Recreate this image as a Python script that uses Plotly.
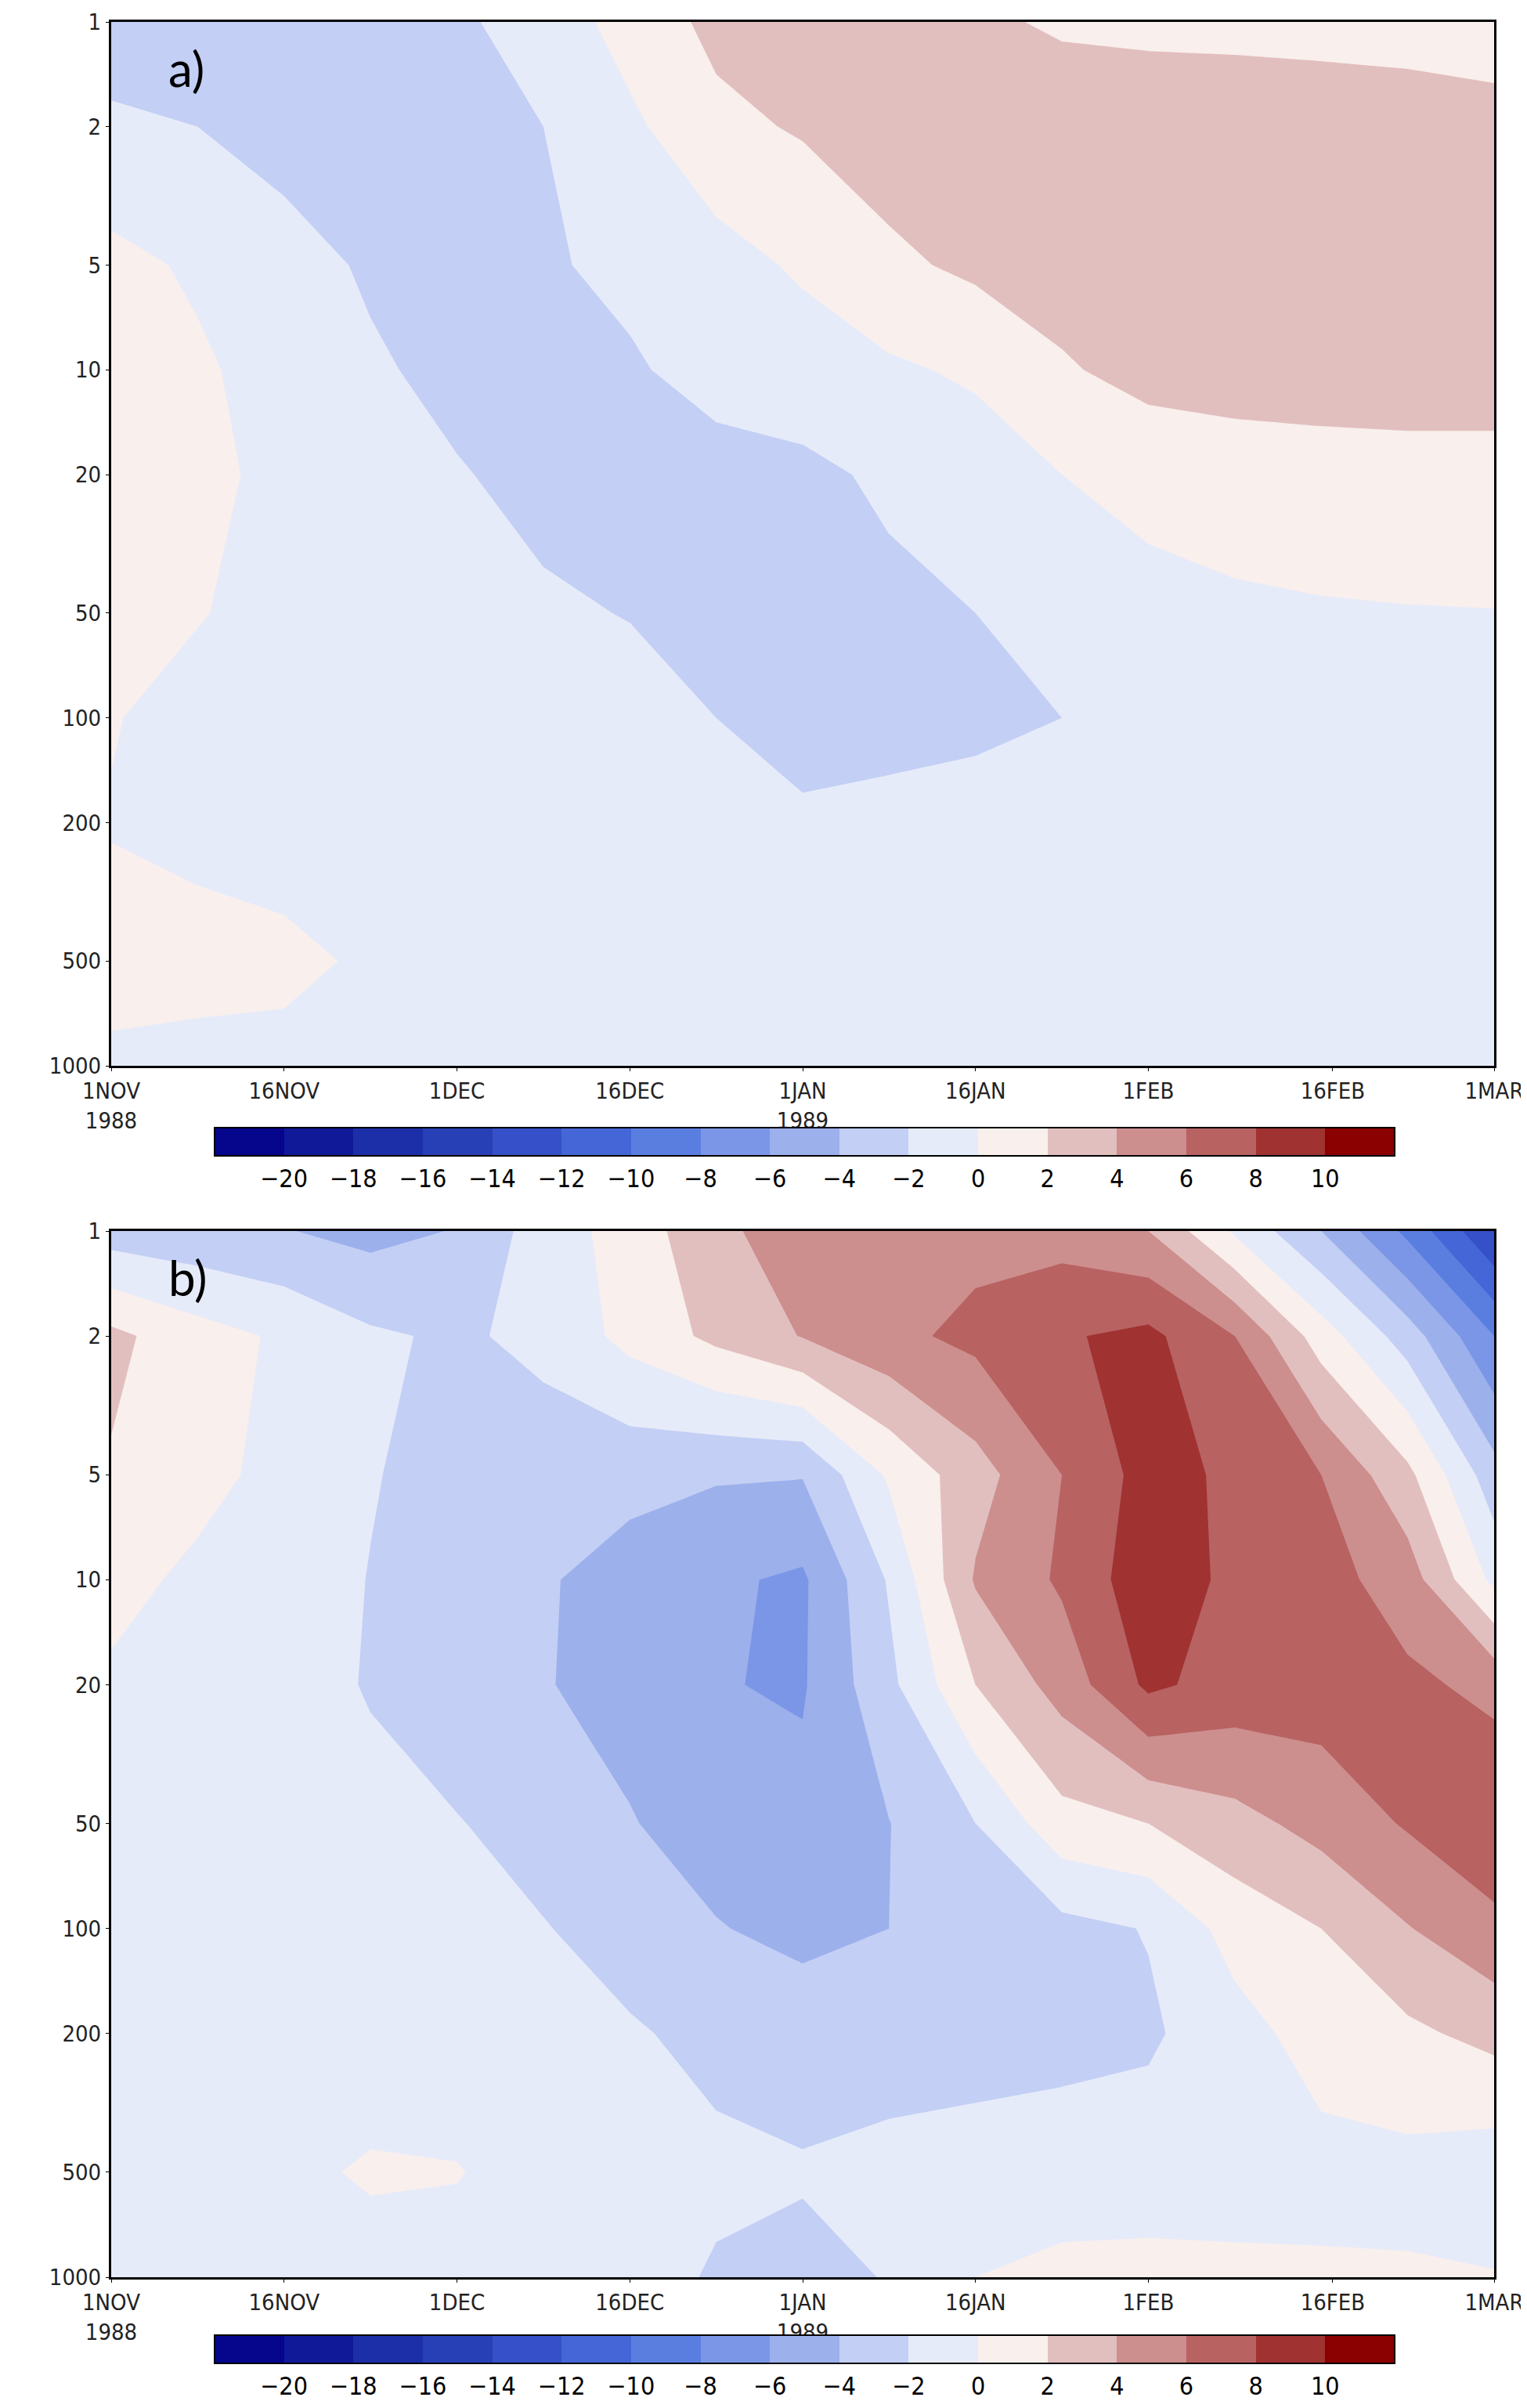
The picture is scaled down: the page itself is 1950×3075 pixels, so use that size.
import plotly.graph_objects as go
import numpy as np

days = [0, 7.5, 15, 22.5, 30, 37.5, 45, 52.5, 60, 67.5, 75, 82.5, 90, 97.5, 105, 112.5, 120]
levels = [1, 2, 5, 10, 20, 50, 100, 200, 500, 1000]

za = [
    [-2.6,-2.6,-2.6,-2.6,-2.3,-1.2,0.8,2.5,2.8,2.8,2.4,1.7,1.5,1.45,1.4,1.35,1.3],
    [-1.8,-2.0,-2.6,-2.8,-2.8,-2.0,-0.4,1.5,2.2,3.0,3.2,3.3,3.3,3.2,3.0,2.8,2.5],
    [0.6,-0.3,-1.4,-2.2,-2.6,-2.2,-1.6,-0.8,0.3,1.6,2.4,2.8,3.0,3.0,3.0,2.9,2.8],
    [0.8,0.3,-0.8,-1.8,-2.4,-2.6,-2.2,-1.4,-1.0,-0.3,0.3,1.8,2.6,2.7,2.7,2.7,2.7],
    [0.5,0.3,-0.3,-1.2,-1.9,-2.4,-2.6,-2.6,-2.4,-1.7,-1.0,0.0,0.8,1.2,1.4,1.5,1.5],
    [0.4,0.1,-0.6,-1.0,-1.4,-1.8,-2.05,-2.5,-2.6,-2.4,-2.0,-1.5,-0.8,-0.4,-0.2,-0.1,-0.05],
    [0.1,-0.6,-1.0,-1.1,-1.2,-1.3,-1.5,-2.0,-2.5,-2.6,-2.4,-2.0,-1.5,-1.2,-1.1,-1.0,-1.0],
    [-0.1,-0.5,-1.0,-1.1,-1.2,-1.3,-1.4,-1.6,-1.8,-1.5,-1.3,-1.2,-1.2,-1.2,-1.2,-1.2,-1.2],
    [0.6,0.6,0.5,-0.3,-0.8,-0.9,-1.0,-1.0,-1.0,-1.0,-1.0,-1.0,-1.0,-1.0,-1.0,-1.0,-1.0],
    [-0.3,-0.5,-0.6,-0.6,-0.7,-0.7,-0.7,-0.7,-0.7,-0.7,-0.7,-0.7,-0.7,-0.7,-0.7,-0.7,-0.7],
]

zb = [
    [-3.0,-3.4,-3.9,-4.6,-3.9,-1.0,0.8,3.6,4.9,5.2,5.4,5.2,4.0,-0.3,-4.0,-8.5,-14.0],
    [2.5,0.8,-0.3,-1.7,-2.3,-1.5,0.6,2.5,4.1,5.5,6.5,7.8,8.5,6.0,1.0,-3.0,-8.0],
    [1.8,0.6,-0.6,-1.9,-2.6,-3.0,-3.4,-3.8,-3.9,0.3,3.2,6.0,8.8,7.6,6.0,2.5,-3.2],
    [0.6,-0.4,-1.2,-2.05,-2.8,-3.8,-4.8,-5.7,-6.3,-1.8,4.2,6.3,9.3,7.5,6.8,5.0,-0.5],
    [-0.3,-0.8,-1.4,-2.1,-3.2,-3.9,-4.6,-5.9,-6.2,-2.5,2.0,4.8,8.4,7.2,7.0,6.4,5.5],
    [-0.8,-1.0,-1.3,-1.6,-1.9,-2.8,-3.9,-4.8,-5.4,-4.05,-2.0,1.3,2.0,3.3,4.7,6.2,7.5],
    [-0.8,-0.9,-1.1,-1.3,-1.6,-1.9,-2.8,-3.9,-4.5,-4.0,-3.2,-2.6,-1.9,0.8,2.0,3.9,5.5],
    [-0.6,-0.7,-0.9,-1.0,-1.2,-1.4,-1.8,-2.5,-3.0,-2.8,-2.6,-2.5,-2.3,-0.8,0.9,1.6,2.6],
    [-0.8,-0.7,-0.4,0.2,0.1,-0.9,-1.2,-1.6,-1.8,-1.5,-1.4,-1.2,-1.0,-0.8,-0.7,-0.6,-1.2],
    [-0.6,-0.6,-0.7,-0.7,-0.8,-0.9,-1.2,-2.2,-2.6,-1.9,0.0,0.6,0.6,0.4,0.3,0.2,0.1],
]

xtick_vals = [0, 15, 30, 45, 60, 75, 90, 106, 120]
xtick_text = ["1NOV<br>1988", "16NOV", "1DEC", "16DEC", "1JAN<br>1989", "16JAN", "1FEB", "16FEB", "1MAR"]
ytick_vals = [1, 2, 5, 10, 20, 50, 100, 200, 500, 1000]
cbar_ticks = [-20, -18, -16, -14, -12, -10, -8, -6, -4, -2, 0, 2, 4, 6, 8, 10]

band_colors = ["#05068c", "#101a99", "#1c2ea8", "#2840b6", "#3550c8", "#4466d6", "#5a7ee0",
               "#7b96e6", "#9cb0ec", "#c3cff4", "#e6ebfa", "#f9efec", "#e2bfbf", "#cd8e8e",
               "#b86262", "#a03232", "#8b0000"]
n = len(band_colors)
cscale = []
for i, c in enumerate(band_colors):
    cscale.append([i / n, c])
    cscale.append([(i + 1) / n, c])

W, H = 1950, 3075
def px(v): return v / W
def py(v): return 1 - v / H

panels = [
    dict(z=za, xd=[px(134), px(1900)], yd=[py(1353), py(20)], cb_y=py(1470), label="a)"),
    dict(z=zb, xd=[px(134), px(1900)], yd=[py(2900), py(1564)], cb_y=py(3012), label="b)"),
]

fig = go.Figure()
tfont = dict(family="DejaVu Sans Condensed, DejaVu Sans", size=32, color="black")
for k, p in enumerate(panels):
    xa = "x" if k == 0 else "x2"
    ya = "y" if k == 0 else "y2"
    fig.add_trace(go.Contour(
        x=days, y=np.log10(levels), z=p["z"], xaxis=xa, yaxis=ya,
        colorscale=cscale, zmin=-22, zmax=12, autocontour=False,
        contours=dict(start=-20, end=10, size=2, coloring="fill", showlines=False),
        line=dict(width=0, smoothing=0),
        colorbar=dict(orientation="h", x=0.5228, xanchor="center", y=p["cb_y"], yanchor="middle",
                      len=1527, lenmode="pixels", thickness=36, outlinewidth=2, outlinecolor="black",
                      ypad=0, tickvals=cbar_ticks, ticks="", tickfont=tfont,
                      ticklabelposition="outside bottom"),
    ))
    axkw = dict(showline=True, linecolor="black", linewidth=3, mirror=True, ticks="outside",
                ticklen=4, tickcolor="black", showgrid=True, gridcolor="#a0a0a0", griddash="dot",
                gridwidth=2, layer="above traces", automargin=False,
                tickfont=dict(family="DejaVu Sans Condensed, DejaVu Sans", size=29, color="#222"))
    xname = "xaxis" if k == 0 else "xaxis2"
    yname = "yaxis" if k == 0 else "yaxis2"
    fig.update_layout(**{
        xname: dict(domain=p["xd"], range=[0, 120], tickvals=xtick_vals, ticktext=xtick_text,
                    anchor=ya, **axkw),
        yname: dict(domain=p["yd"], range=[3, 0], tickvals=list(np.log10(ytick_vals)),
                    ticktext=[str(v) for v in ytick_vals], anchor=xa, **axkw),
    })
    fig.add_annotation(text=p["label"], xref=f"{xa} domain", yref=f"{ya} domain", x=0.04, y=0.985,
                       xanchor="left", yanchor="top", showarrow=False,
                       font=dict(family="Lato, Open Sans", size=62, color="black"))

fig.update_layout(width=W, height=H, margin=dict(l=0, r=0, t=0, b=0, autoexpand=False),
                  paper_bgcolor="white", plot_bgcolor="white", showlegend=False)
fig.write_html("out.html")
